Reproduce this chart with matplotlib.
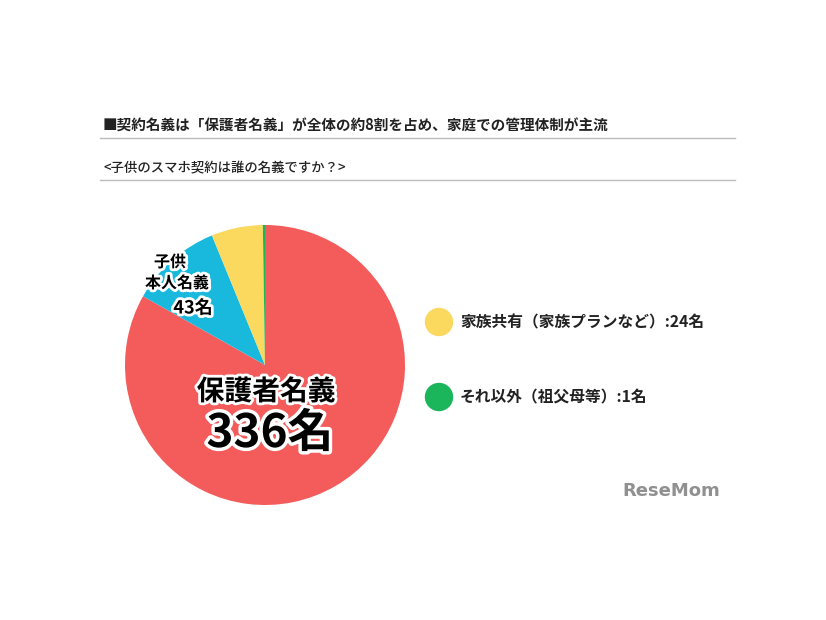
import matplotlib.pyplot as plt
import matplotlib.patheffects as pe
from matplotlib.patches import Ellipse

plt.rcParams['font.family'] = ['Noto Sans CJK JP', 'DejaVu Sans']

# data
categories = ['保護者名義', '子供本人名義', '家族共有（家族プランなど）', 'それ以外（祖父母等）']
counts = [336, 43, 24, 1]
colors = ['#F45B5B', '#19B9DE', '#FBD85E', '#1BB55C']

W, H = 826, 620
fig = plt.figure(figsize=(W / 100, H / 100), dpi=100)

def fx(x):
    return x / W

def fy(y):
    return 1 - y / H

# title block
fig.text(fx(103), fy(126), '■契約名義は「保護者名義」が全体の約8割を占め、家庭での管理体制が主流',
         fontsize=10.5, fontweight='bold', color='#222222', va='center')
fig.add_artist(plt.Line2D([fx(100), fx(735)], [fy(138), fy(138)], color='#bbbbbb', lw=1))
fig.text(fx(103), fy(168), '<子供のスマホ契約は誰の名義ですか？>',
         fontsize=9.6, fontweight='medium', color='#222222', va='center')
fig.add_artist(plt.Line2D([fx(100), fx(735)], [fy(180), fy(180)], color='#bbbbbb', lw=1))

# pie
cx, cy, r = 265, 365, 140
ax = fig.add_axes([fx(cx - r), fy(cy + r), 2 * r / W, 2 * r / H])
ax.pie(counts, colors=colors, startangle=90, counterclock=False,
       wedgeprops=dict(linewidth=0))
ax.set_xlim(-1, 1)
ax.set_ylim(-1, 1)

stroke = [pe.withStroke(linewidth=4, foreground='white')]
fig.text(fx(266), fy(392), categories[0], fontsize=20, fontweight='bold',
         ha='center', va='center', path_effects=stroke)
fig.text(fx(270), fy(434), f'{counts[0]}名', fontsize=33, fontweight='bold',
         ha='center', va='center', path_effects=[pe.withStroke(linewidth=5, foreground='white')])
fig.text(fx(170), fy(262), '子供', fontsize=11.5, fontweight='bold',
         ha='center', va='center', path_effects=stroke)
fig.text(fx(177), fy(283), '本人名義', fontsize=11.5, fontweight='bold',
         ha='center', va='center', path_effects=stroke)
fig.text(fx(193), fy(308), f'{counts[1]}名', fontsize=13, fontweight='bold',
         ha='center', va='center', path_effects=stroke)

# legend
for i, y in zip([2, 3], [322, 397]):
    fig.add_artist(Ellipse((fx(439), fy(y)), 27 / W, 27 / H, color=colors[i],
                           transform=fig.transFigure))
    fig.text(fx(460), fy(y), f'{categories[i]}:{counts[i]}名', fontsize=11.3,
             fontweight='bold', color='#222222', va='center')

# logo
fig.text(fx(671), fy(491), 'ReseMom', fontsize=13, fontweight='bold',
         color='#909090', ha='center', va='center', family='DejaVu Sans')

fig.savefig('out.png', dpi=100)
